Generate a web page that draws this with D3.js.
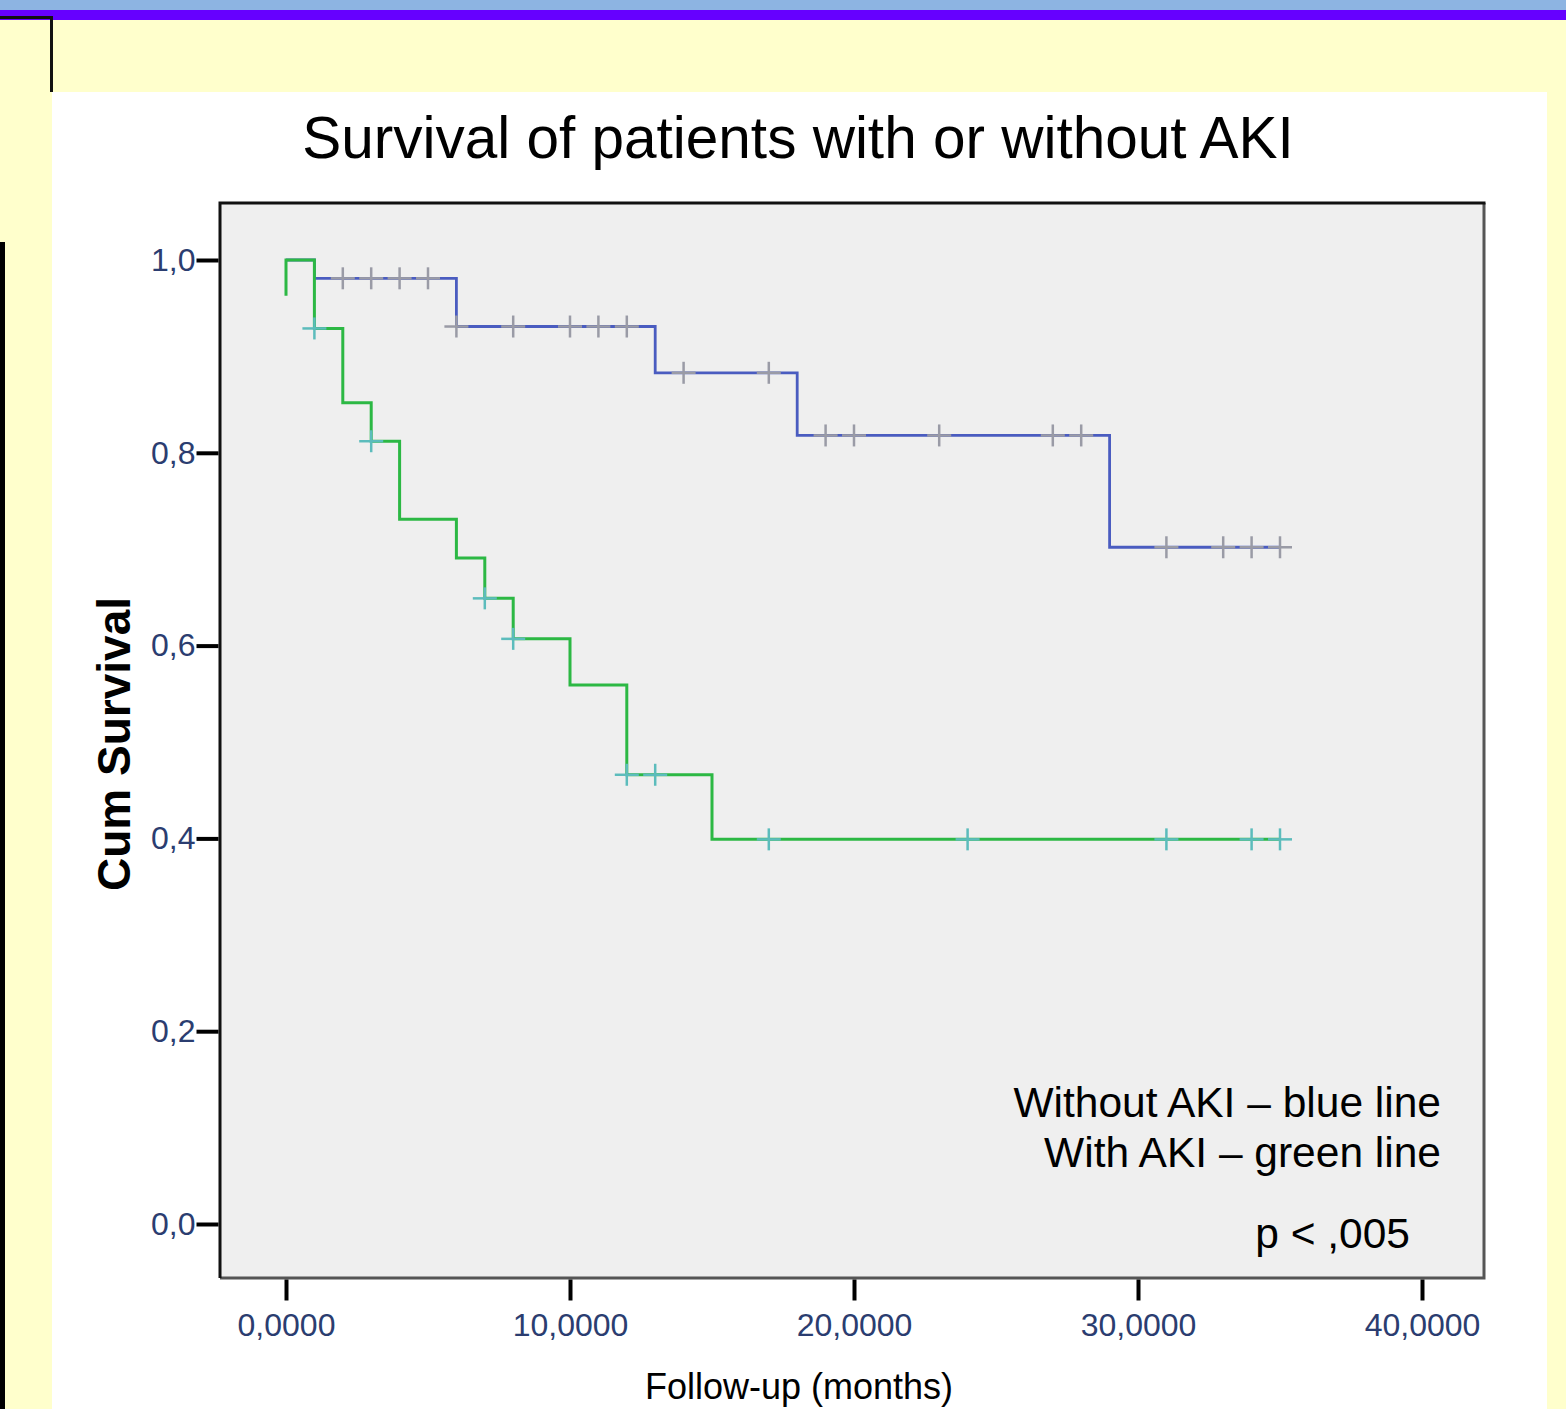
<!DOCTYPE html>
<html lang="en">
<head>
  <meta charset="UTF-8">
  <title>Survival of patients with or without AKI</title>
  <script src="https://cdnjs.cloudflare.com/ajax/libs/d3/7.8.5/d3.min.js"></script>
  <style>
    body { margin: 0; background: #ffffcc; }
    svg { display: block; font-family: "Liberation Sans", Arial, sans-serif; }
  </style>
</head>
<body>
  <svg id="chart" width="1566" height="1409"></svg>
  <script>
    // follow-up in months, cumulative survival
    const withoutTimes = [0, 1, 6, 13, 18, 29, 35];
    const withoutSurv = [1.0, 0.981, 0.931, 0.883, 0.818, 0.702, 0.702];
    const withoutCensored = [2, 3, 4, 5, 6, 8, 10, 11, 12, 14, 17, 19, 20, 23, 27, 28, 31, 33, 34, 35];

    const withTimes = [0, 0, 1, 2, 3, 4, 6, 7, 8, 10, 12, 15, 35];
    const withSurv = [0.963, 1.0, 0.929, 0.852, 0.812, 0.731, 0.691, 0.649, 0.607, 0.559, 0.466, 0.399, 0.399];
    const withCensored = [1, 3, 7, 8, 12, 13, 17, 24, 31, 34, 35];

    const xTicks = [0, 10, 20, 30, 40];
    const yTicks = [0, 0.2, 0.4, 0.6, 0.8, 1.0];

    const svg = d3.select('#chart');

    // page background (slide)
    svg.append('rect').attr('x', 0).attr('y', 0).attr('width', 1566).attr('height', 1409).attr('fill', '#ffffcc');
    svg.append('rect').attr('x', 0).attr('y', 0).attr('width', 1566).attr('height', 10).attr('fill', '#8db4e2');
    svg.append('rect').attr('x', 0).attr('y', 10).attr('width', 1566).attr('height', 10).attr('fill', '#6600ff');
    svg.append('rect').attr('x', 52).attr('y', 92).attr('width', 1495).attr('height', 1317).attr('fill', '#ffffff');
    svg.append('path').attr('d', 'M0,17.5H51.5V92').attr('fill', 'none').attr('stroke', '#111').attr('stroke-width', 3);
    svg.append('rect').attr('x', 0).attr('y', 242).attr('width', 5).attr('height', 1167).attr('fill', '#000');

    const pL = 220, pT = 203, pR = 1484, pB = 1278;

    const x = d3.scaleLinear().domain([0, 40]).range([286, 1422]);
    const y = d3.scaleLinear().domain([0, 1]).range([1224, 260]);

    // plot frame
    svg.append('rect').attr('x', pL).attr('y', pT).attr('width', pR - pL).attr('height', pB - pT)
      .attr('fill', '#efefef');
    svg.append('path').attr('d', `M${pR},${pT}V${pB}H${pL}`)
      .attr('fill', 'none').attr('stroke', '#555').attr('stroke-width', 3);
    svg.append('path').attr('d', `M${pL},${pB}V${pT}H${pR + 1.5}`)
      .attr('fill', 'none').attr('stroke', '#111').attr('stroke-width', 3);

    const comma = d => d.toFixed(1).replace('.', ',');

    const yAxis = svg.append('g')
      .attr('transform', `translate(${pL - 1.5},0)`)
      .call(d3.axisLeft(y).tickValues(yTicks).tickFormat(comma).tickSize(22).tickPadding(1));
    const xAxis = svg.append('g')
      .attr('transform', `translate(0,${pB + 1.5})`)
      .call(d3.axisBottom(x).tickValues(xTicks).tickFormat(d => d.toFixed(4).replace('.', ',')).tickSize(21).tickPadding(13));

    [yAxis, xAxis].forEach(g => {
      g.select('.domain').remove();
      g.selectAll('.tick line').attr('stroke', '#000').attr('stroke-width', 4);
      g.selectAll('.tick text').attr('fill', '#2b3d70').style('font-size', '32px').style('font-family', '"Liberation Sans", Arial, sans-serif');
    });

    // Kaplan-Meier step lines
    const stepLine = d3.line().x(d => x(d[0])).y(d => y(d[1])).curve(d3.curveStepAfter);
    const survAt = (times, surv, t) => {
      let s = surv[0];
      times.forEach((tt, i) => { if (tt <= t) s = surv[i]; });
      return s;
    };

    function drawGroup(times, surv, censored, lineColor, markColor, lw) {
      const pts = times.map((t, i) => [t, surv[i]]);
      svg.append('path').datum(pts).attr('d', stepLine)
        .attr('fill', 'none').attr('stroke', lineColor).attr('stroke-width', lw);
      const marks = svg.append('g').selectAll('g').data(censored).enter().append('g')
        .attr('transform', t => `translate(${x(t)},${y(survAt(times, surv, t))})`);
      marks.append('line').attr('x1', 0).attr('x2', 0).attr('y1', -11).attr('y2', 11)
        .attr('stroke', markColor).attr('stroke-width', 2.5);
      marks.append('line').attr('x1', -12).attr('x2', 12).attr('y1', 0).attr('y2', 0)
        .attr('stroke', markColor).attr('stroke-width', 2.5);
    }

    drawGroup(withoutTimes, withoutSurv, withoutCensored, '#4a5cc0', '#9a9ba6', 2.8);
    drawGroup(withTimes, withSurv, withCensored, '#2cb844', '#5cbcbc', 3);

    // titles
    svg.append('text').attr('x', 798).attr('y', 158).attr('text-anchor', 'middle')
      .style('font-size', '58.5px').attr('fill', '#000').text('Survival of patients with or without AKI');

    svg.append('text').attr('transform', 'translate(130,744) rotate(-90)').attr('text-anchor', 'middle')
      .style('font-size', '46px').style('font-weight', 'bold').attr('fill', '#000').text('Cum Survival');

    svg.append('text').attr('x', 799).attr('y', 1399).attr('text-anchor', 'middle')
      .style('font-size', '36px').attr('fill', '#000').text('Follow-up (months)');

    // annotations
    const notes = svg.append('g').attr('text-anchor', 'end').style('font-size', '42.5px').attr('fill', '#000');
    notes.append('text').attr('x', 1441).attr('y', 1117).text('Without AKI \u2013 blue line');
    notes.append('text').attr('x', 1441).attr('y', 1167).text('With AKI \u2013 green line');
    notes.append('text').attr('x', 1410).attr('y', 1248).text('p < ,005');
  </script>
</body>
</html>
